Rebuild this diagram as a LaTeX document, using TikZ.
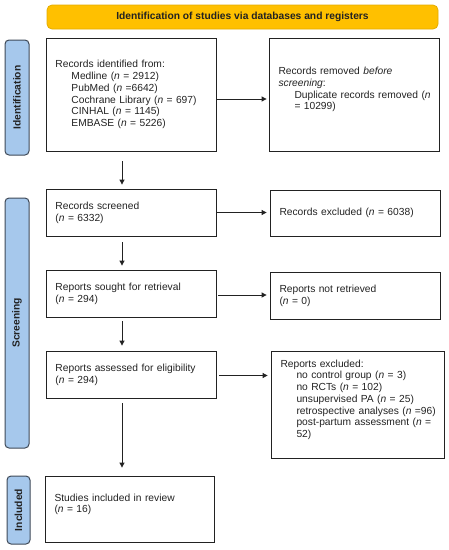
\documentclass[tikz,border=0pt]{standalone}
\usepackage{fontspec}
\setmainfont{Liberation Sans}
\usetikzlibrary{arrows.meta,positioning}
\definecolor{bannerfill}{HTML}{FFC000}
\definecolor{bannerline}{HTML}{E3AC00}
\definecolor{barfill}{HTML}{A6C8EC}
\definecolor{barline}{HTML}{3F4A58}
\definecolor{ink}{HTML}{222222}
\newcommand{\nval}{\textit{n}}
\newcommand{\inset}{\hspace*{16pt}}
\tikzset{
  every node/.style={font=\fontsize{10.25pt}{11.7pt}\selectfont, text=ink},
  box/.style={draw=ink, line width=0.8pt, align=left, inner xsep=9.5pt, inner ysep=0pt},
  phasebar/.style={draw=barline, fill=barfill, line width=1pt, rounded corners=4pt,
    rotate=90, inner sep=0pt, font=\fontsize{10.25pt}{11.7pt}\selectfont\bfseries},
  flow/.style={draw=ink, line width=0.8pt, -{Triangle[length=5pt,width=5pt]}},
}

\begin{document}
\begin{tikzpicture}[x=1pt, y=-1pt]
\useasboundingbox (0,0) rectangle (449,550);

% header
\node[draw=bannerline, fill=bannerfill, line width=0.8pt, rounded corners=5pt,
  minimum width=391pt, minimum height=24pt, inner sep=0pt,
  font=\fontsize{10.25pt}{11.7pt}\selectfont\bfseries] (banner) at (242.5,17)
  {Identification of studies via databases and registers};

% phases
\node[phasebar, minimum width=115pt, minimum height=24pt] (idbar) at (17,97.5) {Identification};
\node[phasebar, minimum width=250pt, minimum height=24pt] (scbar) at (17,323) {Screening};
\node[phasebar, minimum width=68pt, minimum height=23pt] (inbar) at (18.5,510) {Included};

% left column
\node[box, text width=151pt, minimum height=113pt] (ident) at (131,94.5)
  {Records identified from:\\
   \inset Medline (\nval{} = 2912)\\
   \inset PubMed (\nval{} =6642)\\
   \inset Cochrane Library (\nval{} = 697)\\
   \inset CINHAL (\nval{} = 1145)\\
   \inset EMBASE (\nval{} = 5226)};
\node[box, text width=151pt, minimum height=47pt] (screen) at (131,212.5)
  {Records screened\\(\nval{} = 6332)};
\node[box, text width=151pt, minimum height=47pt] (sought) at (131,293.5)
  {Reports sought for retrieval\\(\nval{} = 294)};
\node[box, text width=151pt, minimum height=47pt] (assess) at (131,374.5)
  {Reports assessed for eligibility\\(\nval{} = 294)};
\node[box, text width=150pt, minimum height=66pt] (incl) at (129.5,509)
  {Studies included in review\\(\nval{} = 16)\\ \mbox{}};

% right column
\node[box, text width=151pt, minimum height=113pt] (removed) at (354,94.5)
  {Records removed \textit{before}\\
   \textit{screening}:\\
   \mbox{\inset Duplicate records removed (\nval}\\
   \inset = 10299)\\ \mbox{}};
\node[box, text width=151pt, minimum height=46pt] (excl) at (355,213)
  {Records excluded (\nval{} = 6038)};
\node[box, text width=151pt, minimum height=47pt] (notret) at (355,295.5)
  {Reports not retrieved\\(\nval{} = 0)};
\node[box, text width=154pt, minimum height=107pt] (why) at (357.5,404.5)
  {Reports excluded:\\
   \inset no control group (\nval{} = 3)\\
   \inset no RCTs (\nval{} = 102)\\
   \inset unsupervised PA (\nval{} = 25)\\
   \mbox{\inset retrospective analyses (\nval{} =96)}\\
   \mbox{\inset post-partum assessment (\nval{} =}\\
   \inset 52)\\ \mbox{}};

% arrows down
\draw[flow, shorten <=10pt, shorten >=4pt]
  ([xshift=-9pt]ident.south) -- ([xshift=-9pt]ident.south |- screen.north);
\draw[flow, shorten <=6pt, shorten >=4pt]
  ([xshift=-9pt]screen.south) -- ([xshift=-9pt]screen.south |- sought.north);
\draw[flow, shorten <=4pt, shorten >=5pt]
  ([xshift=-9pt]sought.south) -- ([xshift=-9pt]sought.south |- assess.north);
\draw[flow, shorten <=5pt, shorten >=8pt]
  ([xshift=-9pt]assess.south) -- ([xshift=-9pt]assess.south |- incl.north);

% arrows across
\draw[flow, shorten >=2pt]
  ([yshift=-4.5pt]ident.east) -- ([yshift=-4.5pt]ident.east -| removed.west);
\draw[flow, shorten >=3pt] (screen.east) -- (screen.east -| excl.west);
\draw[flow, shorten <=2pt, shorten >=3pt]
  ([yshift=-1.5pt]sought.east) -- ([yshift=-1.5pt]sought.east -| notret.west);
\draw[flow, shorten <=3pt, shorten >=3pt]
  ([yshift=-1pt]assess.east) -- ([yshift=-1pt]assess.east -| why.west);
\end{tikzpicture}
\end{document}
